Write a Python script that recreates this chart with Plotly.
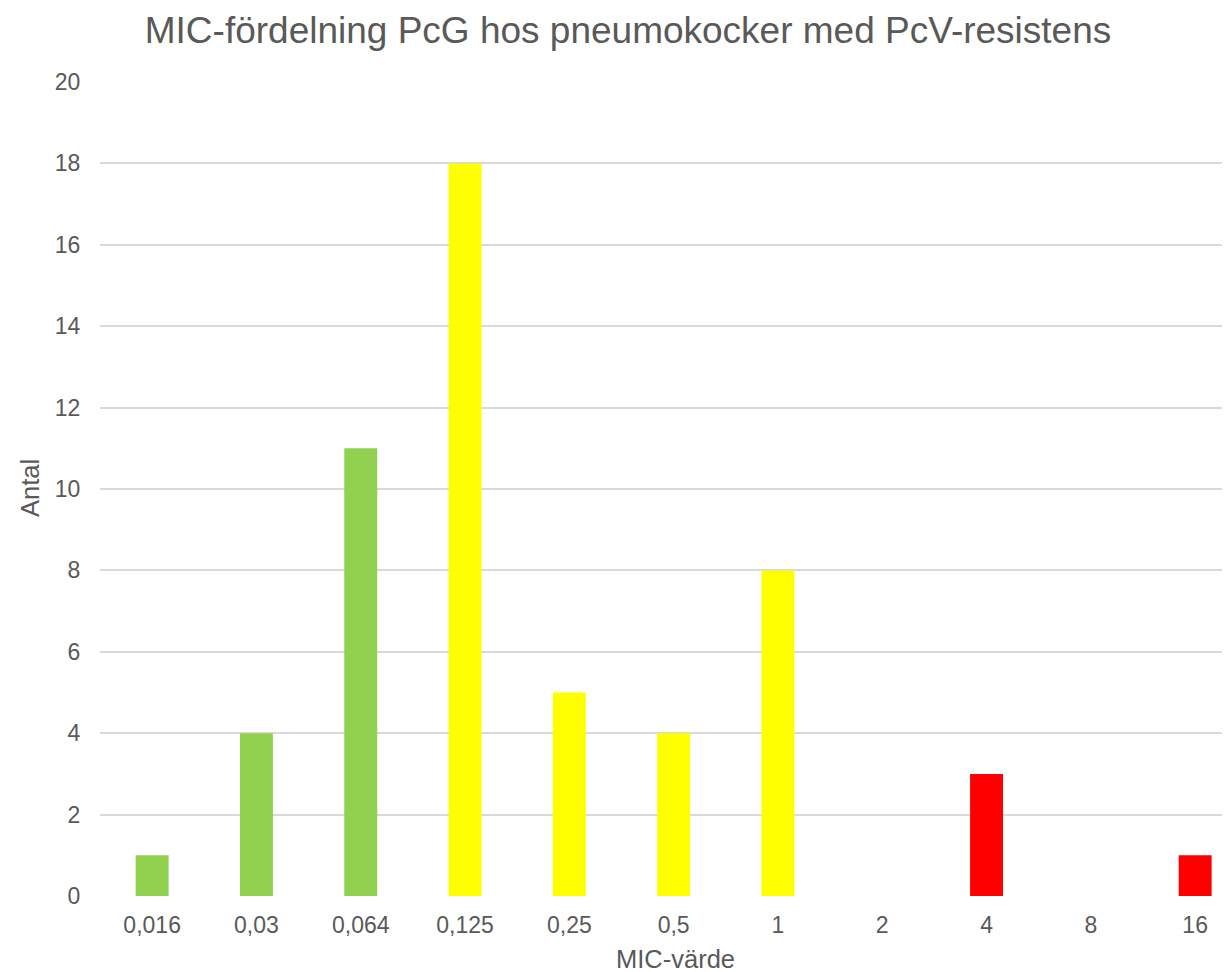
import plotly.graph_objects as go

categories = ["0,016", "0,03", "0,064", "0,125", "0,25", "0,5", "1", "2", "4", "8", "16"]
counts = [1, 4, 11, 18, 5, 4, 8, 0, 3, 0, 1]
bar_colors = ["#92D050", "#92D050", "#92D050", "#FFFF00", "#FFFF00", "#FFFF00",
              "#FFFF00", "#FFFF00", "#FF0000", "#FF0000", "#FF0000"]
y_ticks = list(range(0, 21, 2))

FONT = "Liberation Sans, Arial, sans-serif"
GREY = "#595959"

# page body has an 8px default margin; figure coordinates compensate for it
W, H = 1222, 964
L, T, B = 92, 74, 76
PW, PH = W - L, H - T - B

fig = go.Figure(go.Bar(
    x=categories, y=counts, marker=dict(color=bar_colors, line=dict(width=0)),
    width=0.316,
))

fig.update_layout(
    width=W, height=H,
    margin=dict(l=L, r=0, t=T, b=B),
    paper_bgcolor="white", plot_bgcolor="white",
    font=dict(family=FONT, color=GREY),
    showlegend=False,
    title=dict(text="MIC-fördelning PcG hos pneumokocker med PcV-resistens",
               x=620 / W, xref="container", xanchor="center",
               y=1 - 22 / H, yref="container", yanchor="middle",
               font=dict(size=37, color=GREY, family=FONT)),
    xaxis=dict(type="category", range=[-0.5, 10.334], showgrid=False,
               showline=False, zeroline=False,
               ticks="outside", ticklen=8, tickcolor="rgba(0,0,0,0)",
               tickfont=dict(size=23, color=GREY)),
    yaxis=dict(range=[0, 20], tickvals=y_ticks, showgrid=True,
               gridcolor="#D9D9D9", gridwidth=1.5, zeroline=False, showline=False,
               ticks="outside", ticklen=14, tickcolor="rgba(0,0,0,0)",
               tickfont=dict(size=23, color=GREY)),
    annotations=[
        dict(text="MIC-värde", xref="paper", yref="paper",
             x=(667 - L) / PW, y=-(951 - (T + PH)) / PH,
             xanchor="center", yanchor="middle", showarrow=False,
             font=dict(size=25.5, color=GREY, family=FONT)),
        dict(text="Antal", xref="paper", yref="paper",
             x=-(L - 22) / PW, y=((T + PH) - 480) / PH, textangle=-90,
             xanchor="center", yanchor="middle", showarrow=False,
             font=dict(size=25.5, color=GREY, family=FONT)),
    ],
)

fig.write_html("out.html")
